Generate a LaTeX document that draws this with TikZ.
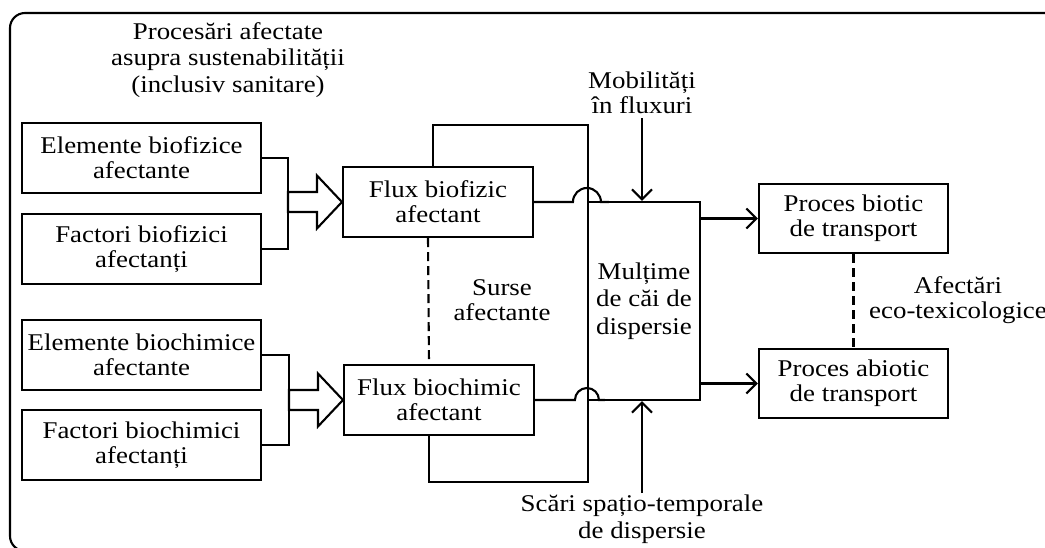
\documentclass[tikz,border=0pt]{standalone}
\usepackage{fontspec}
\setmainfont{Liberation Serif}[FakeStretch=1.12]
\usetikzlibrary{arrows.meta}

\begin{document}
\begin{tikzpicture}[
  x=1pt,y=-1pt,
  line width=2.1pt,
  font=\fontsize{24}{25}\selectfont,
  src/.style={draw,align=center,minimum width=239pt,minimum height=70pt,inner sep=2pt},
  fx/.style={draw,align=center,minimum width=190pt,minimum height=70pt,inner sep=2pt},
  lbl/.style={align=center,inner sep=1pt},
  arr/.style={-{Straight Barb[length=10pt,width=20pt]}},
  dsh/.style={dash pattern=on 9pt off 5pt}
]
\useasboundingbox (0,0) rectangle (1045,547);
\clip (0,0) rectangle (1045,547);
\draw[rounded corners=15pt] (10,13) rectangle (1060,551);
% Sources
\node[src] (eb) at (141.5,158) {Elemente biofizice\\afectante};
\node[src] (fb) at (141.5,249) {Factori biofizici\\afectanți};
\node[src] (ec) at (141.5,355) {Elemente biochimice\\afectante};
\node[src] (fc) at (141.5,445) {Factori biochimici\\afectanți};
% Fluxes
\node[fx] (fbf) at (438,202) {Flux biofizic\\afectant};
\node[fx] (fbc) at (439,400) {Flux biochimic\\afectant};
\node[draw,align=center,minimum width=112pt,minimum height=198pt,font=\fontsize{24}{27.5}\selectfont] (mult) at (644,301) {Mulțime\\de căi de\\dispersie};
% Transport
\node[fx,minimum width=189pt,minimum height=69pt] (pb) at (853.5,218.5) {Proces biotic\\de transport};
\node[fx,minimum width=189pt,minimum height=69pt] (pa) at (853.5,383.5) {Proces abiotic\\de transport};
% Labels
\node[lbl,font=\fontsize{24}{26.5}\selectfont] (proc) at (228,60) {Procesări afectate\\asupra sustenabilității\\(inclusiv sanitare)};
\node[lbl,anchor=south,inner sep=3pt] (mob) at (642,118) {Mobilități\\în fluxuri};
\node[lbl,anchor=north,font=\fontsize{24}{27}\selectfont] (scari) at (642,493) {Scări spațio-temporale\\de dispersie};
\node[lbl] (surse) at (502,300) {Surse\\afectante};
\node[lbl] (afect) at (958,300) {Afectări\\eco-texicologice};

% Junctions and hollow arrows
\coordinate (jb) at ([xshift=-54pt]fbf.west);
\coordinate (jc) at ([xshift=-54pt]fbc.west);
\draw (eb.east) -| (jb) |- (fb.east);
\draw (ec.east) -| (jc) |- (fc.east);
\draw (fbf.west) -- ++(-25,-26.5) -- ++(0,16.5) -- ++(-29,0) -- ++(0,20) -- ++(29,0) -- ++(0,16.5) -- cycle;
\draw (fbc.west) -- ++(-25,-26.5) -- ++(0,16.5) -- ++(-29,0) -- ++(0,20) -- ++(29,0) -- ++(0,16.5) -- cycle;

% Loop round the fluxes
\coordinate (lt) at (588,125);
\coordinate (lb) at (588,482);
\draw ([xshift=-5pt]fbf.north) |- (lt) -- (lb) -| ([xshift=-10pt]fbc.south);
\draw[dsh] ([xshift=-10pt]fbf.south) -- ([xshift=-10pt]fbc.north);

% Flux lines with jumps
\draw (fbf.east) -- ([xshift=-14pt]fbf.east -| mult.west) arc[start angle=180,end angle=0,radius=14pt] -- ++(8,0);
\draw (fbc.east) -- ([xshift=-12pt]fbc.east -| mult.west) arc[start angle=180,end angle=0,radius=12pt] -- ++(6,0);

\draw[arr] (mob.south) -- (mob.south |- mult.north);
\draw[arr] (scari.north) -- (scari.north |- mult.south);
\draw[arr] (mult.east |- pb.west) -- (pb.west);
\draw[arr] (mult.east |- pa.west) -- (pa.west);
\draw[dsh] (pb.south) -- (pa.north);
\end{tikzpicture}
\end{document}
